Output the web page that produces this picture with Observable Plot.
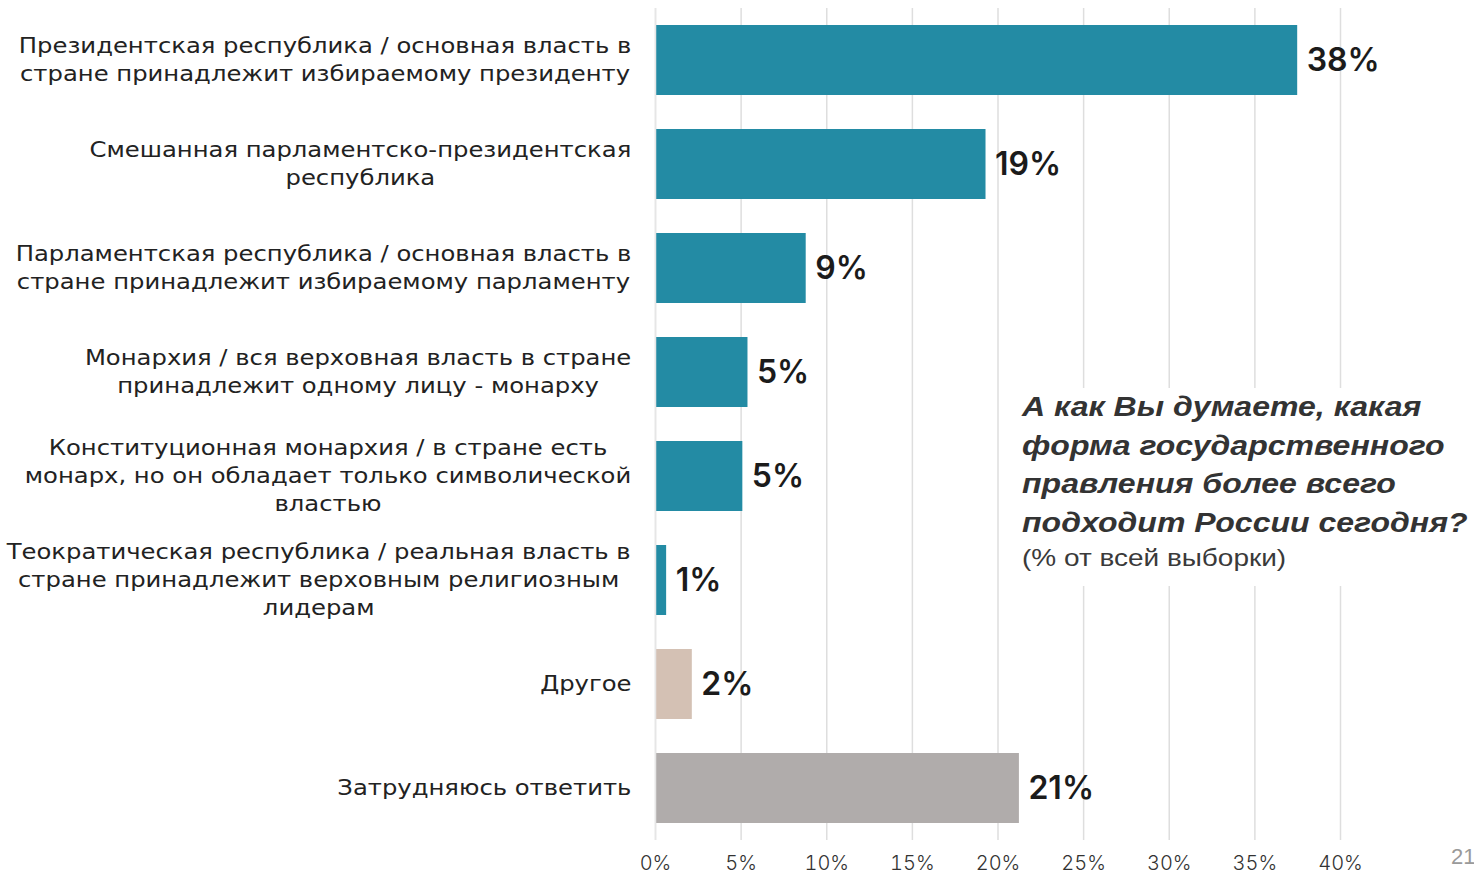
<!DOCTYPE html>
<html>
<head>
<meta charset="utf-8">
<script src="https://cdn.jsdelivr.net/npm/d3@7"></script>
<script src="https://cdn.jsdelivr.net/npm/@observablehq/plot@0.6"></script>
<style>
  html, body { margin: 0; padding: 0; background: #fff; }
  #wrap { position: relative; width: 1474px; height: 875px; overflow: hidden; }
  #title {
    position: absolute; left: 1010px; top: 388px; width: 464px; height: 198px;
    background: #fff; box-sizing: border-box;
  }
  #title .inner {
    position: absolute; left: 12px; top: 0;
    transform: scaleX(1.165); transform-origin: 0 0;
    font-family: "Liberation Sans", Arial, sans-serif; color: #333; white-space: nowrap;
  }
  #title .q { font-size: 27.5px; font-weight: bold; font-style: italic; line-height: 38.5px; }
  #title .s { font-size: 24px; line-height: 32px; color: #3a3a3a; }
  #page {
    position: absolute; left: 1451px; top: 844px;
    font-family: "Liberation Sans", Arial, sans-serif; font-size: 22px; color: #9a9a9a;
  }
</style>
</head>
<body>
<div id="wrap">
  <div id="chart"></div>
  <div id="title">
    <div class="inner">
      <div class="q">А как Вы думаете, какая<br>форма государственного<br>правления более всего<br>подходит России сегодня?</div>
      <div class="s">(% от всей выборки)</div>
    </div>
  </div>
  <div id="page">21</div>
</div>
<script>
const categories = [
  "Президентская республика / основная власть в\nстране принадлежит избираемому президенту",
  "Смешанная парламентско-президентская\nреспублика",
  "Парламентская республика / основная власть в\nстране принадлежит избираемому парламенту",
  "Монархия / вся верховная власть в стране\nпринадлежит одному лицу - монарху",
  "Конституционная монархия / в стране есть\nмонарх, но он обладает только символической\nвластью",
  "Теократическая республика / реальная власть в\nстране принадлежит верховным религиозным\nлидерам",
  "Другое",
  "Затрудняюсь ответить"
];
const values = [37.5, 19.3, 8.8, 5.4, 5.1, 0.65, 2.15, 21.25];
const valueLabels = ["38%", "19%", "9%", "5%", "5%", "1%", "2%", "21%"];
const xTicks = [0, 5, 10, 15, 20, 25, 30, 35, 40];

const barColors = ["#238BA4", "#238BA4", "#238BA4", "#238BA4", "#238BA4", "#238BA4", "#D4C1B4", "#B0ACAB"];

const data = categories.map((c, i) => ({category: c, value: values[i], label: valueLabels[i]}));

const chart = Plot.plot({
  width: 1474,
  height: 875,
  marginLeft: 655,
  marginRight: 134,
  marginTop: 8,
  marginBottom: 35,
  style: {background: "#fff", overflow: "visible"},
  x: {domain: [0, 40], ticks: xTicks},
  y: {domain: categories, paddingInner: 0.33, paddingOuter: 0.16, label: null},
  color: {domain: categories, range: barColors},
  marks: [
    Plot.gridX(xTicks, {stroke: "#dedede", strokeOpacity: 1, strokeWidth: 1.5}),
    Plot.barX(data, {y: "category", x1: 0, x2: "value", fill: "category", inset: 0}),
    Plot.ruleX([0], {stroke: "#e6e6e6", strokeWidth: 1.5}),
    Plot.text(data, {
      y: "category", x: "value", text: "label", dx: 9, textAnchor: "start",
      fontSize: 32, fontWeight: 600, fontFamily: "Inter, sans-serif", fill: "#1b1b1b"
    }),
    Plot.axisX({
      ticks: xTicks, tickSize: 0, tickPadding: 15, label: null,
      tickFormat: d => d + "%", fontSize: 20, fontFamily: "Inter, sans-serif",
      fontWeight: 300, fill: "#333"
    }),
    Plot.axisY({
      tickSize: 0, tickPadding: 24, label: null, textAnchor: "end", dy: -2,
      fontSize: 21, fontFamily: "'DejaVu Sans', sans-serif", fill: "#222",
      lineHeight: 1.333
    })
  ]
});

document.getElementById("chart").appendChild(chart);

// center multi-line category labels within a block right-aligned to the axis,
// widened horizontally to match the reference's wide typeface
const stretch = 1.157;
const yAxis = chart.querySelector('[aria-label="y-axis tick label"]');
if (yAxis) {
  yAxis.querySelectorAll("text").forEach(t => {
    const w = t.getBBox().width;
    t.setAttribute("text-anchor", "middle");
    const tr = t.getAttribute("transform") || "";
    t.setAttribute("transform", tr + ` translate(${-w * stretch / 2},0) scale(${stretch},1)`);
  });
}
</script>
</body>
</html>
